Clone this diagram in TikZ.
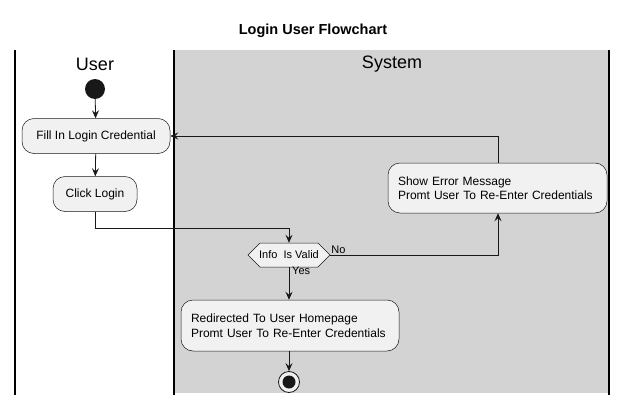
\documentclass[tikz,border=0pt]{standalone}
\usepackage{fontspec}
\setmainfont{Liberation Sans}
\usetikzlibrary{arrows.meta}
\definecolor{boxfill}{HTML}{F1F1F1}
\definecolor{boxline}{HTML}{181818}
\definecolor{lanegray}{HTML}{D3D3D3}
\begin{document}
\begin{tikzpicture}[x=1pt,y=-1pt,
  act/.style={draw=boxline,line width=0.5pt,fill=boxfill,rounded corners=12pt,font=\fontsize{12}{14.5}\selectfont,align=left,inner sep=0pt},
  flow/.style={draw=boxline,line width=0.8pt,-{Stealth[length=8pt,width=7pt,inset=3pt]}},
  lbl/.style={font=\fontsize{11}{13}\selectfont,inner sep=1pt}]
\useasboundingbox (0,0) rectangle (629,404);
\fill[white] (0,0) rectangle (629,404);
% lanes
\fill[lanegray] (174,50) rectangle (609,393);
\draw[line width=1.2pt] (15,50) -- (15,395);
\draw[line width=1.2pt] (174,50) -- (174,395);
\draw[line width=1.2pt] (609,50) -- (609,395);
\node[font=\bfseries\fontsize{14.5}{17}\selectfont] (title) at (313,31) {Login User Flowchart};
\node[font=\fontsize{18}{20}\selectfont] (hu) at (95,64) {User};
\node[font=\fontsize{18}{20}\selectfont] (hs) at (392,64) {System};
% nodes
\node[circle,fill=boxline,minimum size=20pt,inner sep=0pt] (start) at (95,89) {};
\node[act,minimum width=148pt,minimum height=35pt] (fill) at (96,136) {Fill In Login Credential};
\node[act,minimum width=84pt,minimum height=35pt] (click) at (95,194) {Click Login};
\draw[draw=boxline,line width=0.5pt,fill=boxfill] (248,255) -- (260,243) -- (318,243) -- (330,255) -- (318,267) -- (260,267) -- cycle;
\node[minimum width=82pt,minimum height=24pt,inner sep=0pt,font=\fontsize{11}{13}\selectfont] (dec) at (289,255) {Info\ \ Is Valid};
\node[act,minimum width=219pt,minimum height=50pt,text width=199pt] (err) at (497.5,188) {Show Error Message\\Promt User To Re-Enter Credentials};
\node[act,minimum width=218pt,minimum height=51pt,text width=198pt] (redir) at (290,325.5) {Redirected To User Homepage\\Promt User To Re-Enter Credentials};
\node[circle,draw=boxline,line width=0.8pt,fill=boxfill,minimum size=21pt,inner sep=0pt] (end) at (289,382) {};
\node[circle,fill=boxline,minimum size=13pt,inner sep=0pt] (endin) at (end.center) {};
\coordinate (c1) at (95,228);
\coordinate (c2) at (289,228);
\coordinate (c3) at (498,255);
\coordinate (c4) at (498,136);
% connectors
\draw[flow] (start) -- (fill);
\draw[flow] (fill) -- (click);
\draw[flow] (click.south) -- (c1) -- (c2) -- (dec.north);
\draw[flow] (dec.east) -- (c3) -- (err.south -| c3);
\draw[flow] (err.north -| c4) -- (c4) -- (fill.east);
\draw[flow] (dec.south) -- (redir.north -| dec.south);
\draw[flow] (redir.south -| end.north) -- (end.north);
\node[lbl,anchor=south west] (no) at (dec.east) {No};
\node[lbl,anchor=north west] (yes) at ([xshift=2pt,yshift=1.5pt]dec.south) {Yes};
\end{tikzpicture}
\end{document}
